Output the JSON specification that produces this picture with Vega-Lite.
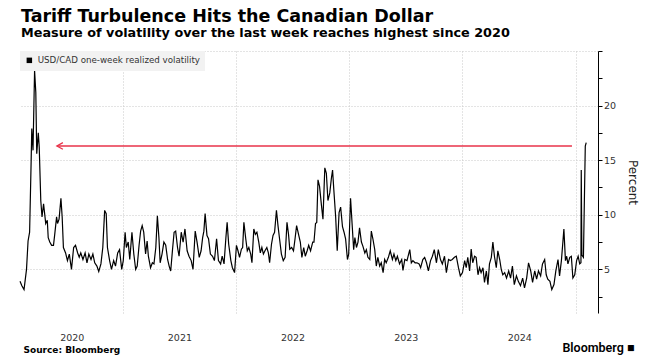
{
  "$schema": "https://vega.github.io/schema/vega-lite/v6.json",
  "autosize": "none",
  "width": 578,
  "height": 262,
  "padding": {"left": 20, "top": 51, "right": 53, "bottom": 48},
  "background": "white",
  "config": {"view": {"stroke": null}, "font": "DejaVu Sans"},
  "title": {
    "text": "Tariff Turbulence Hits the Canadian Dollar",
    "subtitle": "Measure of volatility over the last week reaches highest since 2020",
    "anchor": "start",
    "frame": "group",
    "font": "DejaVu Sans",
    "fontSize": 17.5,
    "fontWeight": "bold",
    "color": "#000000",
    "subtitleFont": "DejaVu Sans",
    "subtitleFontSize": 12.8,
    "subtitleFontWeight": "bold",
    "subtitleColor": "#000000",
    "subtitlePadding": 2,
    "offset": 6,
    "dx": 1
  },
  "datasets": {
    "vol": [
      {"date": "2020-02-04", "vol": 3.9}, {"date": "2020-02-10", "vol": 3.5}, {"date": "2020-02-17", "vol": 3.15}, {"date": "2020-02-25", "vol": 5.0},
      {"date": "2020-03-01", "vol": 7.6}, {"date": "2020-03-06", "vol": 8.4}, {"date": "2020-03-11", "vol": 15.0}, {"date": "2020-03-13", "vol": 17.9},
      {"date": "2020-03-17", "vol": 15.9}, {"date": "2020-03-22", "vol": 23.2}, {"date": "2020-03-26", "vol": 21.2}, {"date": "2020-03-29", "vol": 15.6},
      {"date": "2020-04-03", "vol": 17.5}, {"date": "2020-04-06", "vol": 16.2}, {"date": "2020-04-11", "vol": 11.3}, {"date": "2020-04-15", "vol": 9.8},
      {"date": "2020-04-20", "vol": 11.0}, {"date": "2020-04-27", "vol": 9.2}, {"date": "2020-05-02", "vol": 9.5}, {"date": "2020-05-05", "vol": 7.9},
      {"date": "2020-05-10", "vol": 7.5}, {"date": "2020-05-16", "vol": 7.2}, {"date": "2020-05-22", "vol": 7.2}, {"date": "2020-05-26", "vol": 8.2},
      {"date": "2020-06-01", "vol": 9.8}, {"date": "2020-06-04", "vol": 9.2}, {"date": "2020-06-09", "vol": 9.6}, {"date": "2020-06-15", "vol": 11.5},
      {"date": "2020-06-19", "vol": 9.8}, {"date": "2020-06-23", "vol": 7.0}, {"date": "2020-06-30", "vol": 6.5}, {"date": "2020-07-06", "vol": 5.8},
      {"date": "2020-07-12", "vol": 6.4}, {"date": "2020-07-19", "vol": 5.0}, {"date": "2020-07-26", "vol": 7.0}, {"date": "2020-08-01", "vol": 7.2},
      {"date": "2020-08-08", "vol": 6.5}, {"date": "2020-08-13", "vol": 6.1}, {"date": "2020-08-18", "vol": 6.5}, {"date": "2020-08-25", "vol": 5.9},
      {"date": "2020-09-01", "vol": 6.5}, {"date": "2020-09-07", "vol": 5.6}, {"date": "2020-09-13", "vol": 6.4}, {"date": "2020-09-20", "vol": 5.9},
      {"date": "2020-09-26", "vol": 6.4}, {"date": "2020-10-02", "vol": 5.6}, {"date": "2020-10-09", "vol": 5.3}, {"date": "2020-10-15", "vol": 4.8},
      {"date": "2020-10-22", "vol": 5.5}, {"date": "2020-10-28", "vol": 7.0}, {"date": "2020-11-03", "vol": 10.4}, {"date": "2020-11-08", "vol": 10.1},
      {"date": "2020-11-12", "vol": 7.0}, {"date": "2020-11-19", "vol": 5.8}, {"date": "2020-11-25", "vol": 5.0}, {"date": "2020-12-02", "vol": 5.8},
      {"date": "2020-12-08", "vol": 5.3}, {"date": "2020-12-15", "vol": 6.5}, {"date": "2020-12-21", "vol": 6.8}, {"date": "2020-12-28", "vol": 5.0},
      {"date": "2021-01-02", "vol": 5.8}, {"date": "2021-01-08", "vol": 8.4}, {"date": "2021-01-12", "vol": 7.0}, {"date": "2021-01-18", "vol": 7.5},
      {"date": "2021-01-23", "vol": 5.9}, {"date": "2021-01-30", "vol": 8.4}, {"date": "2021-02-05", "vol": 6.4}, {"date": "2021-02-11", "vol": 5.0},
      {"date": "2021-02-16", "vol": 5.3}, {"date": "2021-02-22", "vol": 7.2}, {"date": "2021-02-27", "vol": 8.5}, {"date": "2021-03-04", "vol": 9.0},
      {"date": "2021-03-09", "vol": 8.4}, {"date": "2021-03-15", "vol": 6.4}, {"date": "2021-03-20", "vol": 7.6}, {"date": "2021-03-24", "vol": 6.2},
      {"date": "2021-03-31", "vol": 5.15}, {"date": "2021-04-06", "vol": 5.6}, {"date": "2021-04-11", "vol": 5.5}, {"date": "2021-04-17", "vol": 7.0},
      {"date": "2021-04-22", "vol": 9.9}, {"date": "2021-04-27", "vol": 7.9}, {"date": "2021-05-01", "vol": 5.6}, {"date": "2021-05-07", "vol": 6.4},
      {"date": "2021-05-13", "vol": 7.5}, {"date": "2021-05-19", "vol": 7.2}, {"date": "2021-05-25", "vol": 5.9}, {"date": "2021-05-30", "vol": 5.3},
      {"date": "2021-06-04", "vol": 4.85}, {"date": "2021-06-10", "vol": 6.85}, {"date": "2021-06-15", "vol": 8.4}, {"date": "2021-06-20", "vol": 8.5},
      {"date": "2021-06-26", "vol": 7.0}, {"date": "2021-07-01", "vol": 6.2}, {"date": "2021-07-08", "vol": 8.4}, {"date": "2021-07-14", "vol": 7.5},
      {"date": "2021-07-20", "vol": 8.7}, {"date": "2021-07-27", "vol": 6.7}, {"date": "2021-08-02", "vol": 6.2}, {"date": "2021-08-09", "vol": 5.8},
      {"date": "2021-08-15", "vol": 5.0}, {"date": "2021-08-22", "vol": 8.5}, {"date": "2021-08-28", "vol": 7.5}, {"date": "2021-09-04", "vol": 6.1},
      {"date": "2021-09-10", "vol": 6.7}, {"date": "2021-09-15", "vol": 7.9}, {"date": "2021-09-19", "vol": 8.5}, {"date": "2021-09-23", "vol": 10.1},
      {"date": "2021-09-29", "vol": 8.1}, {"date": "2021-10-04", "vol": 7.8}, {"date": "2021-10-10", "vol": 6.4}, {"date": "2021-10-17", "vol": 6.2},
      {"date": "2021-10-23", "vol": 5.8}, {"date": "2021-10-30", "vol": 7.8}, {"date": "2021-11-05", "vol": 5.8}, {"date": "2021-11-12", "vol": 5.5},
      {"date": "2021-11-17", "vol": 6.2}, {"date": "2021-11-23", "vol": 5.5}, {"date": "2021-11-29", "vol": 7.9}, {"date": "2021-12-03", "vol": 9.3},
      {"date": "2021-12-08", "vol": 7.3}, {"date": "2021-12-15", "vol": 5.8}, {"date": "2021-12-20", "vol": 5.15}, {"date": "2021-12-27", "vol": 4.7},
      {"date": "2022-01-02", "vol": 7.2}, {"date": "2022-01-07", "vol": 6.7}, {"date": "2022-01-12", "vol": 6.1}, {"date": "2022-01-18", "vol": 6.85},
      {"date": "2022-01-22", "vol": 7.0}, {"date": "2022-01-26", "vol": 9.3}, {"date": "2022-02-01", "vol": 7.8}, {"date": "2022-02-06", "vol": 6.7},
      {"date": "2022-02-11", "vol": 7.0}, {"date": "2022-02-17", "vol": 6.4}, {"date": "2022-02-21", "vol": 5.6}, {"date": "2022-02-27", "vol": 8.7},
      {"date": "2022-03-04", "vol": 8.2}, {"date": "2022-03-09", "vol": 8.4}, {"date": "2022-03-15", "vol": 7.5}, {"date": "2022-03-20", "vol": 6.5},
      {"date": "2022-03-25", "vol": 7.0}, {"date": "2022-03-30", "vol": 6.4}, {"date": "2022-04-04", "vol": 6.7}, {"date": "2022-04-10", "vol": 7.0},
      {"date": "2022-04-15", "vol": 6.5}, {"date": "2022-04-19", "vol": 5.6}, {"date": "2022-04-25", "vol": 7.3}, {"date": "2022-04-30", "vol": 8.1},
      {"date": "2022-05-05", "vol": 8.4}, {"date": "2022-05-11", "vol": 10.4}, {"date": "2022-05-16", "vol": 9.0}, {"date": "2022-05-21", "vol": 7.8},
      {"date": "2022-05-27", "vol": 6.4}, {"date": "2022-06-02", "vol": 5.8}, {"date": "2022-06-08", "vol": 6.1}, {"date": "2022-06-14", "vol": 9.3},
      {"date": "2022-06-19", "vol": 8.2}, {"date": "2022-06-23", "vol": 6.85}, {"date": "2022-06-29", "vol": 7.0}, {"date": "2022-07-05", "vol": 6.7},
      {"date": "2022-07-10", "vol": 7.8}, {"date": "2022-07-15", "vol": 9.0}, {"date": "2022-07-22", "vol": 8.1}, {"date": "2022-07-27", "vol": 7.5},
      {"date": "2022-08-01", "vol": 6.1}, {"date": "2022-08-07", "vol": 7.0}, {"date": "2022-08-12", "vol": 6.2}, {"date": "2022-08-18", "vol": 6.7},
      {"date": "2022-08-23", "vol": 7.2}, {"date": "2022-08-29", "vol": 6.7}, {"date": "2022-09-05", "vol": 7.5}, {"date": "2022-09-09", "vol": 7.5},
      {"date": "2022-09-14", "vol": 9.2}, {"date": "2022-09-18", "vol": 9.3}, {"date": "2022-09-22", "vol": 13.2}, {"date": "2022-09-27", "vol": 12.6},
      {"date": "2022-10-03", "vol": 10.9}, {"date": "2022-10-08", "vol": 9.6}, {"date": "2022-10-14", "vol": 14.3}, {"date": "2022-10-19", "vol": 13.8},
      {"date": "2022-10-24", "vol": 11.3}, {"date": "2022-10-30", "vol": 12.0}, {"date": "2022-11-04", "vol": 13.3}, {"date": "2022-11-08", "vol": 14.1},
      {"date": "2022-11-12", "vol": 12.3}, {"date": "2022-11-18", "vol": 9.8}, {"date": "2022-11-23", "vol": 6.7}, {"date": "2022-11-29", "vol": 10.2},
      {"date": "2022-12-04", "vol": 10.7}, {"date": "2022-12-10", "vol": 8.9}, {"date": "2022-12-15", "vol": 8.4}, {"date": "2022-12-20", "vol": 7.8},
      {"date": "2022-12-26", "vol": 5.9}, {"date": "2022-12-30", "vol": 6.4},
      {"date": "2023-01-05", "vol": 11.5}, {"date": "2023-01-11", "vol": 8.7}, {"date": "2023-01-15", "vol": 6.8}, {"date": "2023-01-19", "vol": 7.9},
      {"date": "2023-01-24", "vol": 7.0}, {"date": "2023-01-29", "vol": 7.5}, {"date": "2023-02-03", "vol": 8.8}, {"date": "2023-02-09", "vol": 7.5},
      {"date": "2023-02-14", "vol": 7.1}, {"date": "2023-02-20", "vol": 6.5}, {"date": "2023-02-25", "vol": 6.8}, {"date": "2023-03-02", "vol": 6.1},
      {"date": "2023-03-08", "vol": 5.9}, {"date": "2023-03-13", "vol": 8.5}, {"date": "2023-03-18", "vol": 7.8}, {"date": "2023-03-24", "vol": 6.8},
      {"date": "2023-03-29", "vol": 5.3}, {"date": "2023-04-03", "vol": 6.1}, {"date": "2023-04-09", "vol": 5.3}, {"date": "2023-04-14", "vol": 5.6},
      {"date": "2023-04-20", "vol": 4.7}, {"date": "2023-04-25", "vol": 5.9}, {"date": "2023-04-30", "vol": 5.6}, {"date": "2023-05-07", "vol": 6.1},
      {"date": "2023-05-13", "vol": 6.7}, {"date": "2023-05-20", "vol": 5.9}, {"date": "2023-05-25", "vol": 6.4}, {"date": "2023-05-31", "vol": 5.8},
      {"date": "2023-06-05", "vol": 6.2}, {"date": "2023-06-12", "vol": 5.5}, {"date": "2023-06-19", "vol": 5.9}, {"date": "2023-06-23", "vol": 4.9},
      {"date": "2023-06-29", "vol": 5.9}, {"date": "2023-07-06", "vol": 5.8}, {"date": "2023-07-15", "vol": 6.8}, {"date": "2023-07-20", "vol": 5.6},
      {"date": "2023-07-25", "vol": 5.8}, {"date": "2023-08-01", "vol": 5.6}, {"date": "2023-08-07", "vol": 5.6}, {"date": "2023-08-14", "vol": 5.5},
      {"date": "2023-08-19", "vol": 5.15}, {"date": "2023-08-26", "vol": 5.9}, {"date": "2023-09-01", "vol": 6.1}, {"date": "2023-09-07", "vol": 5.6},
      {"date": "2023-09-13", "vol": 4.85}, {"date": "2023-09-20", "vol": 5.8}, {"date": "2023-09-26", "vol": 6.2}, {"date": "2023-10-02", "vol": 6.8},
      {"date": "2023-10-09", "vol": 5.6}, {"date": "2023-10-15", "vol": 6.8}, {"date": "2023-10-22", "vol": 5.9}, {"date": "2023-10-28", "vol": 5.5},
      {"date": "2023-11-04", "vol": 6.2}, {"date": "2023-11-10", "vol": 4.7}, {"date": "2023-11-17", "vol": 5.9}, {"date": "2023-11-23", "vol": 5.8},
      {"date": "2023-11-29", "vol": 5.9}, {"date": "2023-12-06", "vol": 6.1}, {"date": "2023-12-12", "vol": 6.2}, {"date": "2023-12-19", "vol": 5.15},
      {"date": "2023-12-25", "vol": 4.4},
      {"date": "2024-01-01", "vol": 4.7}, {"date": "2024-01-08", "vol": 5.8}, {"date": "2024-01-13", "vol": 5.15}, {"date": "2024-01-18", "vol": 6.1},
      {"date": "2024-01-24", "vol": 4.85}, {"date": "2024-01-29", "vol": 6.85}, {"date": "2024-02-03", "vol": 5.6}, {"date": "2024-02-09", "vol": 6.2},
      {"date": "2024-02-14", "vol": 6.1}, {"date": "2024-02-20", "vol": 4.5}, {"date": "2024-02-25", "vol": 5.15}, {"date": "2024-03-01", "vol": 4.7},
      {"date": "2024-03-07", "vol": 5.15}, {"date": "2024-03-12", "vol": 3.8}, {"date": "2024-03-18", "vol": 4.85}, {"date": "2024-03-23", "vol": 3.6},
      {"date": "2024-03-28", "vol": 5.5}, {"date": "2024-04-03", "vol": 6.1}, {"date": "2024-04-08", "vol": 7.5}, {"date": "2024-04-13", "vol": 6.2},
      {"date": "2024-04-19", "vol": 5.15}, {"date": "2024-04-24", "vol": 6.7}, {"date": "2024-04-30", "vol": 5.9}, {"date": "2024-05-05", "vol": 5.0},
      {"date": "2024-05-10", "vol": 4.5}, {"date": "2024-05-16", "vol": 4.7}, {"date": "2024-05-22", "vol": 4.2}, {"date": "2024-05-29", "vol": 4.85},
      {"date": "2024-06-04", "vol": 4.2}, {"date": "2024-06-10", "vol": 5.3}, {"date": "2024-06-16", "vol": 3.6}, {"date": "2024-06-23", "vol": 4.4},
      {"date": "2024-06-29", "vol": 3.9}, {"date": "2024-07-06", "vol": 3.5}, {"date": "2024-07-13", "vol": 4.2}, {"date": "2024-07-19", "vol": 3.3},
      {"date": "2024-07-26", "vol": 4.2}, {"date": "2024-08-01", "vol": 5.6}, {"date": "2024-08-08", "vol": 4.85}, {"date": "2024-08-14", "vol": 3.8},
      {"date": "2024-08-21", "vol": 4.85}, {"date": "2024-08-27", "vol": 4.1}, {"date": "2024-09-02", "vol": 4.85}, {"date": "2024-09-09", "vol": 4.4},
      {"date": "2024-09-15", "vol": 5.5}, {"date": "2024-09-22", "vol": 5.9}, {"date": "2024-09-27", "vol": 4.5}, {"date": "2024-10-02", "vol": 4.1},
      {"date": "2024-10-09", "vol": 3.9}, {"date": "2024-10-15", "vol": 3.15}, {"date": "2024-10-22", "vol": 3.6}, {"date": "2024-10-28", "vol": 4.85},
      {"date": "2024-11-04", "vol": 5.9}, {"date": "2024-11-09", "vol": 4.4}, {"date": "2024-11-15", "vol": 5.8}, {"date": "2024-11-20", "vol": 7.6},
      {"date": "2024-11-23", "vol": 8.7}, {"date": "2024-11-28", "vol": 5.8}, {"date": "2024-12-02", "vol": 6.2}, {"date": "2024-12-06", "vol": 5.5},
      {"date": "2024-12-12", "vol": 6.1}, {"date": "2024-12-17", "vol": 6.2}, {"date": "2024-12-22", "vol": 4.2}, {"date": "2024-12-28", "vol": 4.5},
      {"date": "2025-01-03", "vol": 5.8}, {"date": "2025-01-08", "vol": 6.2}, {"date": "2025-01-13", "vol": 5.5}, {"date": "2025-01-17", "vol": 5.6},
      {"date": "2025-01-18", "vol": 14.1}, {"date": "2025-01-20", "vol": 6.3}, {"date": "2025-01-25", "vol": 6.1}, {"date": "2025-01-31", "vol": 16.3},
      {"date": "2025-02-03", "vol": 16.6}
    ],
    "arrow": [{"start": "2020-06-02", "end": "2024-12-19", "level": 16.3}]
  },
  "resolve": {"axis": {"x": "independent", "y": "independent"}},
  "layer": [
    {
      "data": {"name": "vol"},
      "mark": {"type": "line", "color": "#000000", "strokeWidth": 1.2},
      "encoding": {
        "x": {
          "field": "date",
          "type": "temporal",
          "scale": {"domain": [{"year": 2020, "month": 2, "date": 4}, {"year": 2025, "month": 3, "date": 13}]},
          "axis": {
            "orient": "bottom",
            "values": [{"year": 2021, "month": 1, "date": 1}, {"year": 2022, "month": 1, "date": 1}, {"year": 2023, "month": 1, "date": 1}, {"year": 2024, "month": 1, "date": 1}, {"year": 2025, "month": 1, "date": 1}],
            "grid": true,
            "gridColor": "#c8c8c8",
            "gridDash": [1, 2],
            "gridWidth": 1,
            "labels": false,
            "ticks": false,
            "domain": false,
            "title": "Source: Bloomberg",
            "titleFont": "DejaVu Sans",
            "titleFontSize": 9,
            "titleFontWeight": "bold",
            "titleColor": "#000000",
            "titleAnchor": "start",
            "titleAlign": "left",
            "titleBaseline": "alphabetic",
            "titleX": 3,
            "titleY": 39
          }
        },
        "y": {
          "field": "vol",
          "type": "quantitative",
          "scale": {"domain": [1, 25], "nice": false, "zero": false},
          "axis": {
            "orient": "right",
            "values": [5, 10, 15, 20, 25],
            "labelExpr": "datum.value < 25 ? datum.label : ''",
            "labelOverlap": false,
            "grid": true,
            "gridColor": "#c8c8c8",
            "gridDash": [1, 2],
            "domain": true,
            "domainColor": "#000000",
            "domainWidth": 1,
            "ticks": true,
            "tickColor": "#000000",
            "tickSize": 4,
            "labelPadding": 1.5,
            "labelFont": "DejaVu Sans",
            "labelFontSize": 9.5,
            "labelColor": "#333333",
            "title": "Percent",
            "titleFont": "DejaVu Sans",
            "titleFontSize": 12,
            "titleFontWeight": "normal",
            "titleColor": "#222222",
            "titleAngle": 90,
            "titlePadding": 10
          }
        },
        "color": {
          "datum": "USD/CAD one-week realized volatility",
          "type": "nominal",
          "scale": {"range": ["#000000"]},
          "legend": {
            "orient": "top-left",
            "offset": 0,
            "title": null,
            "padding": 5,
            "fillColor": "#f2f2f2",
            "cornerRadius": 0,
            "symbolType": "square",
            "symbolSize": 30,
            "symbolFillColor": "#000000",
            "symbolStrokeColor": "#000000",
            "symbolStrokeWidth": 0,
            "labelFont": "DejaVu Sans",
            "labelFontSize": 8.7,
            "labelColor": "#333333",
            "labelOffset": 4,
            "labelLimit": 400
          }
        }
      }
    },
    {
      "data": {"name": "arrow"},
      "mark": {"type": "rule", "color": "#e8334a", "strokeWidth": 1.3},
      "encoding": {
        "x": {
          "field": "start",
          "type": "temporal",
          "axis": {
            "orient": "bottom",
            "values": [{"year": 2020, "month": 7, "date": 20}, {"year": 2021, "month": 7, "date": 2}, {"year": 2022, "month": 7, "date": 2}, {"year": 2023, "month": 7, "date": 2}, {"year": 2024, "month": 7, "date": 2}],
            "format": "%Y",
            "grid": false,
            "ticks": false,
            "tickSize": 0,
            "domain": false,
            "labelFont": "DejaVu Sans",
            "labelFontSize": 9.5,
            "labelColor": "#333333",
            "labelPadding": 19,
            "labelFlush": false,
            "labelOverlap": false,
            "title": "Bloomberg ■",
            "titleFont": "Roboto",
            "titleFontSize": 12.5,
            "titleFontWeight": 600,
            "titleColor": "#000000",
            "titleAnchor": "end",
            "titleAlign": "right",
            "titleBaseline": "alphabetic",
            "titleX": 614,
            "titleY": 38
          }
        },
        "x2": {"field": "end"},
        "y": {
          "field": "level",
          "type": "quantitative",
          "axis": {
            "orient": "right",
            "values": [2.5, 7.5, 12.5, 17.5, 22.5],
            "labels": false,
            "grid": false,
            "domain": false,
            "ticks": true,
            "tickColor": "#000000",
            "tickSize": 4,
            "title": null
          }
        }
      }
    },
    {
      "data": {"name": "arrow"},
      "mark": {"type": "point", "shape": "M 2 -1.1 L 0 0 L 2 1.1", "filled": false, "color": "#e8334a", "strokeWidth": 1.3, "size": 36, "opacity": 1},
      "encoding": {
        "x": {"field": "start", "type": "temporal", "axis": null},
        "y": {"field": "level", "type": "quantitative", "axis": null}
      }
    }
  ]
}
